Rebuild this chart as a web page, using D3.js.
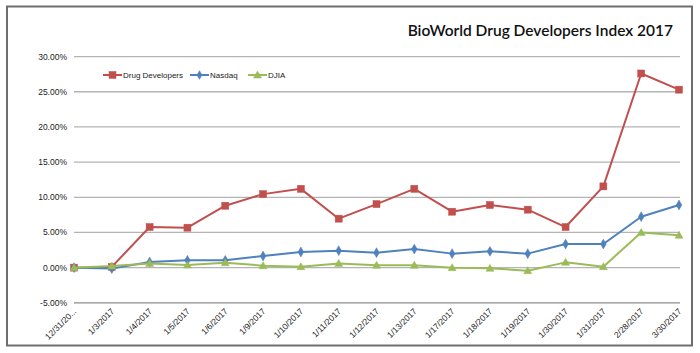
<!DOCTYPE html>
<html>
<head>
  <meta charset="utf-8">
  <title>BioWorld Drug Developers Index 2017</title>
  <script src="https://d3js.org/d3.v7.min.js"></script>
  <style>
    body { margin: 0; background: #fff; }
  </style>
</head>
<body>
<svg width="700" height="353"></svg>
<script>
  // Chart data
  const dates = ["12/31/20...", "1/3/2017", "1/4/2017", "1/5/2017", "1/6/2017", "1/9/2017",
    "1/10/2017", "1/11/2017", "1/12/2017", "1/13/2017", "1/17/2017", "1/18/2017",
    "1/19/2017", "1/30/2017", "1/31/2017", "2/28/2017", "3/30/2017"];
  const drugDevelopers = [0, 0.1, 5.77, 5.68, 8.8, 10.45, 11.2, 6.96, 9.03, 11.2, 7.95, 8.9, 8.24, 5.77, 11.55, 27.6, 25.3];
  const nasdaq = [0, -0.14, 0.8, 1.04, 1.04, 1.65, 2.22, 2.41, 2.13, 2.64, 1.99, 2.32, 1.99, 3.35, 3.35, 7.24, 8.9];
  const djia = [0, 0.23, 0.6, 0.37, 0.7, 0.28, 0.14, 0.6, 0.33, 0.33, 0, -0.1, -0.43, 0.75, 0.14, 5.0, 4.6];
  const yTicks = [-5, 0, 5, 10, 15, 20, 25, 30];

  const series = [
    { name: "Drug Developers", values: drugDevelopers, color: "#C0504D", marker: "square" },
    { name: "Nasdaq", values: nasdaq, color: "#4F81BD", marker: "diamond" },
    { name: "DJIA", values: djia, color: "#9BBB59", marker: "triangle" }
  ];

  const svg = d3.select("svg");
  const font = "'Liberation Sans', Arial, sans-serif";

  // Outer frame
  svg.append("rect")
    .attr("x", 7).attr("y", 6.5).attr("width", 685).attr("height", 339)
    .attr("fill", "none").attr("stroke", "#6e6e6e").attr("stroke-width", 2);

  // Title
  svg.append("text")
    .attr("x", 673).attr("y", 36)
    .attr("text-anchor", "end")
    .style("font-family", "Lato, 'Open Sans', sans-serif")
    .style("font-size", "15.5px")
    .style("font-weight", "600")
    .attr("fill", "#111")
    .text("BioWorld Drug Developers Index 2017");

  const x = d3.scalePoint().domain(dates).range([74, 679]);
  const y = d3.scaleLinear().domain([-5, 30]).range([302.8, 56.6]);

  // Gridlines
  svg.append("g").selectAll("line")
    .data(yTicks)
    .enter().append("line")
    .attr("x1", 74).attr("x2", 680)
    .attr("y1", d => y(d)).attr("y2", d => y(d))
    .attr("stroke", d => d === -5 ? "#8c8c8c" : "#b4b4b4")
    .attr("stroke-width", 1.3);

  // Y axis labels
  svg.append("g").selectAll("text")
    .data(yTicks)
    .enter().append("text")
    .attr("x", 67).attr("y", d => y(d) + 3)
    .attr("text-anchor", "end")
    .style("font-family", font)
    .style("font-size", "8.5px")
    .attr("fill", "#222")
    .text(d => d.toFixed(2) + "%");

  // X axis labels (rotated)
  svg.append("g").selectAll("text")
    .data(dates)
    .enter().append("text")
    .attr("transform", d => `translate(${x(d) + 3},${y(-5) + 9}) rotate(-45)`)
    .attr("text-anchor", "end")
    .style("font-family", font)
    .style("font-size", "8.5px")
    .attr("fill", "#222")
    .text(d => d);

  const line = d3.line()
    .x((d, i) => x(dates[i]))
    .y(d => y(d));

  function drawMarker(g, type, color, size) {
    if (type === "square") {
      g.append("rect").attr("x", -3.5).attr("y", -3.5).attr("width", 7).attr("height", 7)
        .attr("fill", color).attr("stroke", color).attr("stroke-width", 0.5);
    } else if (type === "diamond") {
      g.append("path").attr("d", d3.symbol(d3.symbolDiamond, size || 28)())
        .attr("fill", color).attr("stroke", color).attr("stroke-width", 0.5);
    } else {
      g.append("path").attr("d", "M0,-4 L4,3 L-4,3 Z")
        .attr("fill", color).attr("stroke", color).attr("stroke-width", 0.5);
    }
  }

  // Draw series: lines then markers, back to front
  series.forEach(s => {
    svg.append("path")
      .datum(s.values)
      .attr("d", line)
      .attr("fill", "none")
      .attr("stroke", s.color)
      .attr("stroke-width", 2)
      .attr("stroke-linejoin", "round");

    svg.append("g").selectAll("g")
      .data(s.values)
      .enter().append("g")
      .attr("transform", (d, i) => `translate(${x(dates[i])},${y(d)})`)
      .each(function() { drawMarker(d3.select(this), s.marker, s.color); });
  });

  // Legend
  const legendItems = [
    { s: series[0], x: 103, tx: 123 },
    { s: series[1], x: 190, tx: 210 },
    { s: series[2], x: 248, tx: 268 }
  ];
  const ly = 75;
  legendItems.forEach(it => {
    const g = svg.append("g");
    g.append("line")
      .attr("x1", it.x).attr("x2", it.x + 19)
      .attr("y1", ly).attr("y2", ly)
      .attr("stroke", it.s.color).attr("stroke-width", 2);
    const m = g.append("g").attr("transform", `translate(${it.x + 9.5},${ly})`);
    drawMarker(m, it.s.marker, it.s.color, 22);
    g.append("text")
      .attr("x", it.tx).attr("y", ly + 3)
      .style("font-family", font)
      .style("font-size", "8px")
      .attr("fill", "#222")
      .text(it.s.name);
  });
</script>
</body>
</html>
